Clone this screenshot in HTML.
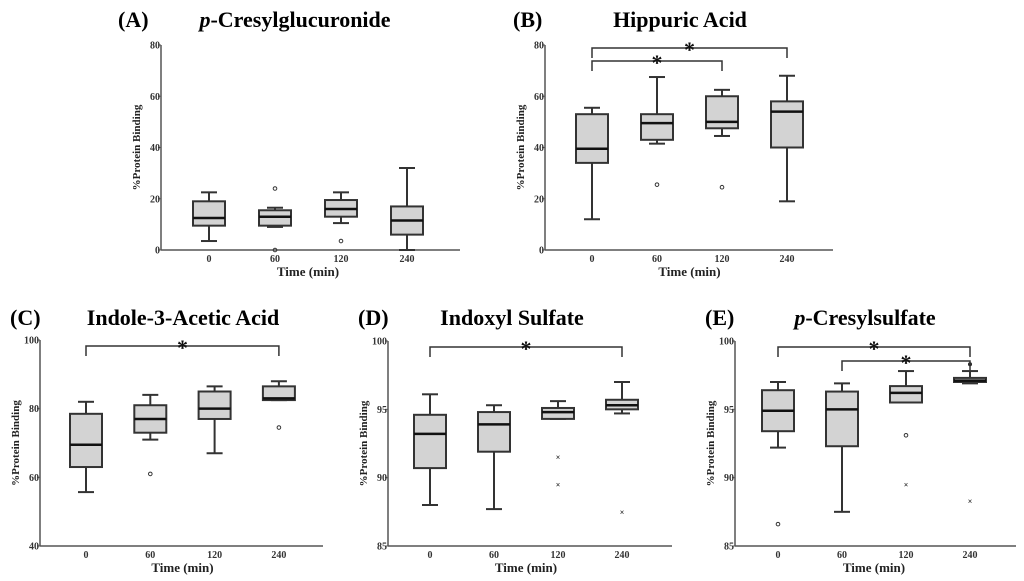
<!DOCTYPE html>
<html><head><meta charset="utf-8"><style>
body{margin:0;background:#fff;}
svg{display:block;font-family:"Liberation Serif",serif;font-weight:bold;}
</style></head><body>
<svg id="fig" width="1024" height="581" viewBox="0 0 1024 581"></svg>
<script>
const categories = ["0","60","120","240"];
// [whiskerLow, q1, median, q3, whiskerHigh]
const statsA = [[3.5,9.5,12.5,19,22.5],[9,9.5,13,15.5,16.5],[10.5,13,16,19.5,22.5],[0,6,11.5,17,32]];
const outliersA = [[],[[24,"o"],[0,"o"]],[[3.5,"o"]],[]];
const statsB = [[12,34,39.5,53,55.5],[41.5,43,49.5,53,67.5],[44.5,47.5,50,60,62.5],[19,40,54,58,68]];
const outliersB = [[],[[25.5,"o"]],[[24.5,"o"]],[]];
const statsC = [[55.7,63,69.5,78.5,82],[71,73,77,81,84],[67,77,80,85,86.5],[82.5,82.5,83,86.5,88]];
const outliersC = [[],[[61,"o"]],[],[[74.5,"o"]]];
const statsD = [[88,90.7,93.2,94.6,96.1],[87.7,91.9,93.9,94.8,95.3],[94.3,94.3,94.8,95.1,95.6],[94.7,95,95.3,95.7,97]];
const outliersD = [[],[],[[91.5,"x"],[89.5,"x"]],[[87.5,"x"]]];
const statsE = [[92.2,93.4,94.9,96.4,97],[87.5,92.3,95,96.3,96.9],[95.5,95.5,96.2,96.7,97.8],[96.9,97,97.1,97.3,97.8]];
const outliersE = [[[86.6,"o"]],[],[[93.1,"o"],[89.5,"x"]],[[98.3,"dot"],[88.3,"x"]]];
const ticksA = [0,20,40,60,80], ticksB=[0,20,40,60,80], ticksC=[40,60,80,100], ticksD=[85,90,95,100], ticksE=[85,90,95,100];
const sigB = [[0,3],[0,2]], sigC=[[0,3]], sigD=[[0,3]], sigE=[[0,3],[1,3]];

const NS="http://www.w3.org/2000/svg";
const svg=document.getElementById('fig');
function mk(tag,attrs,parent,text){const e=document.createElementNS(NS,tag);for(const k in attrs)e.setAttribute(k,attrs[k]);if(text!==undefined)e.textContent=text;(parent||svg).appendChild(e);return e;}

function panel(p){
  const g=mk('g',{});
  
  
  const yS=v=>p.bot-(v-p.ticks[0])/(p.ticks[p.ticks.length-1]-p.ticks[0])*(p.bot-p.top);
  const xS=i=>p.x0+p.dx*i;
  const lab=mk('text',{x:p.labX,y:p.titleY,'font-size':22},g,'('+p.id.toUpperCase()+')');
  
  const t=mk('text',{x:p.titleX,y:p.titleY,'font-size':22,'text-anchor':'middle'},g);
  
  if(p.italicP){mk('tspan',{'font-style':'italic'},t,'p');mk('tspan',{},t,p.title);}else t.textContent=p.title;
  const ya=mk('line',{x1:p.ax,y1:p.top,x2:p.ax,y2:p.bot,stroke:'#555','stroke-width':1.5},g);
  
  const xa=mk('line',{x1:p.ax,y1:p.bot,x2:p.axEnd,y2:p.bot,stroke:'#555','stroke-width':1.5},g);
  
  p.ticks.forEach(v=>{
    const y=yS(v);
    mk('line',{x1:p.ax-3,y1:y,x2:p.ax,y2:y,stroke:'#555'},g);
    const tl=mk('text',{x:p.ax-1,y:y+3.5,'font-size':10,'text-anchor':'end',fill:'#333'},g,String(v));
    
  });
  categories.forEach((c,i)=>{
    const tl=mk('text',{x:xS(i),y:p.bot+12,'font-size':10,'text-anchor':'middle',fill:'#333'},g,c);
    
  });
  const xt=mk('text',{x:(p.x0+xS(3))/2,y:p.bot+26,'font-size':13,'text-anchor':'middle',fill:'#222'},g,'Time (min)');
  
  const yl=mk('text',{x:0,y:0,'font-size':11,'text-anchor':'middle',fill:'#222',transform:`translate(${p.ax-21},${(p.top+p.bot)/2}) rotate(-90)`},g,'%Protein Binding');
  
  const hw=16, cap=8;
  p.stats.forEach((s,i)=>{
    const x=xS(i);
    const bg=mk('g',{stroke:'#333','stroke-width':2},g);
    
    mk('line',{x1:x,y1:yS(s[0]),x2:x,y2:yS(s[1])},bg);
    mk('line',{x1:x,y1:yS(s[3]),x2:x,y2:yS(s[4])},bg);
    mk('line',{x1:x-cap,y1:yS(s[0]),x2:x+cap,y2:yS(s[0])},bg);
    mk('line',{x1:x-cap,y1:yS(s[4]),x2:x+cap,y2:yS(s[4])},bg);
    mk('rect',{x:x-hw,y:yS(s[3]),width:2*hw,height:Math.max(1,yS(s[1])-yS(s[3])),fill:'#d3d3d3'},bg);
    mk('line',{x1:x-hw,y1:yS(s[2]),x2:x+hw,y2:yS(s[2]),'stroke-width':2.5,stroke:'#111'},bg);
    p.out[i].forEach(o=>{
      const y=yS(o[0]);let m;
      if(o[1]==='o')m=mk('circle',{cx:x,cy:y,r:1.8,fill:'none','stroke-width':1},bg);
      else if(o[1]==='dot')m=mk('circle',{cx:x,cy:y,r:2,fill:'#222','stroke-width':0},bg);
      else m=mk('text',{x:x,y:y+3,'font-size':8,'text-anchor':'middle',stroke:'none',fill:'#222'},bg,'×');
      
    });
  });
  p.sig.forEach((b,k)=>{
    const y=p.sigY+k*p.sigGap, x1=xS(b[0]), x2=xS(b[1]);
    const sg=mk('g',{},g);
    
    mk('path',{d:`M${x1},${y+10}V${y}H${x2}V${y+10}`,fill:'none',stroke:'#333','stroke-width':1.5},sg);
    mk('text',{x:(x1+x2)/2,y:y+9,'font-size':22,'text-anchor':'middle',fill:'#111'},sg,'*');
  });
}

panel({id:'a',title:'-Cresylglucuronide',italicP:true,labX:118,titleX:295,titleY:27,ax:161,axEnd:460,top:45,bot:250,x0:209,dx:66,ticks:ticksA,stats:statsA,out:outliersA,sig:[]});
panel({id:'b',title:'Hippuric Acid',italicP:false,labX:513,titleX:680,titleY:27,ax:545,axEnd:833,top:45,bot:250,x0:592,dx:65,ticks:ticksB,stats:statsB,out:outliersB,sig:sigB,sigY:48,sigGap:13});
panel({id:'c',title:'Indole-3-Acetic Acid',italicP:false,labX:10,titleX:183,titleY:325,ax:40,axEnd:323,top:340,bot:546,x0:86,dx:64.3,ticks:ticksC,stats:statsC,out:outliersC,sig:sigC,sigY:346,sigGap:13});
panel({id:'d',title:'Indoxyl Sulfate',italicP:false,labX:358,titleX:512,titleY:325,ax:388,axEnd:672,top:341,bot:546,x0:430,dx:64,ticks:ticksD,stats:statsD,out:outliersD,sig:sigD,sigY:347,sigGap:13});
panel({id:'e',title:'-Cresylsulfate',italicP:true,labX:705,titleX:865,titleY:325,ax:735,axEnd:1016,top:341,bot:546,x0:778,dx:64,ticks:ticksE,stats:statsE,out:outliersE,sig:sigE,sigY:347,sigGap:14});
</script>
</body></html>
